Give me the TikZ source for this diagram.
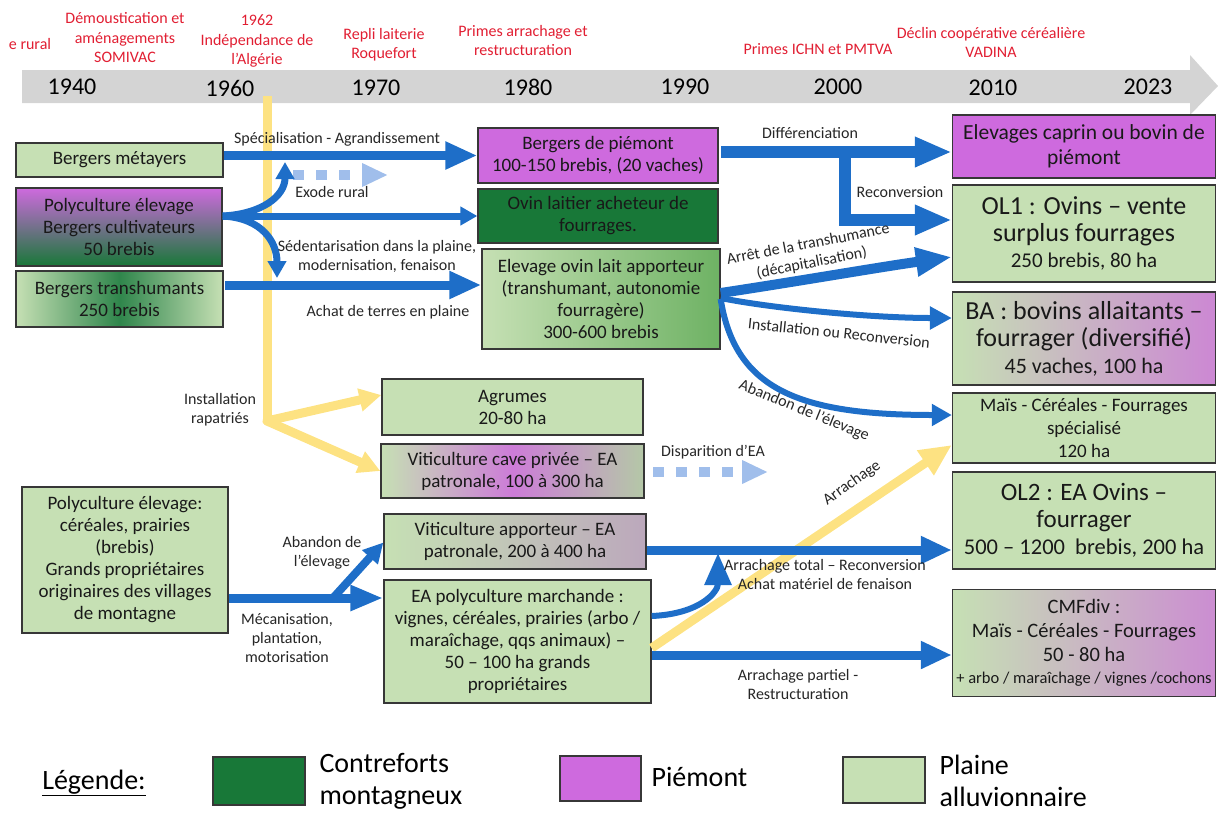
\documentclass[tikz,border=0pt]{standalone}
\usepackage{fontspec}
\setmainfont{Carlito}
\usetikzlibrary{arrows.meta}

\definecolor{lgreen}{RGB}{198,224,180}
\definecolor{dgreen}{RGB}{24,120,56}
\definecolor{mgreen}{RGB}{110,178,100}
\definecolor{piemont}{RGB}{206,106,222}
\definecolor{boxline}{RGB}{55,55,55}
\definecolor{flowblue}{RGB}{30,110,200}
\definecolor{paleblue}{RGB}{160,190,235}
\definecolor{sunyellow}{RGB}{253,226,130}
\definecolor{datered}{RGB}{225,30,50}
\definecolor{band}{RGB}{212,212,212}

\tikzset{
	box/.style={draw=boxline, line width=1.3pt, align=center, inner sep=2pt, text=black!90, font=\fontsize{19}{22}\selectfont},
	flow/.style={draw=flowblue, line width=9pt, -{Triangle[length=32pt,width=26pt]}},
	thinflow/.style={draw=flowblue, line width=7pt, -{Triangle[length=17pt,width=18pt]}},
	fadeflow/.style={draw=paleblue, line width=10pt, dash pattern=on 11pt off 12pt, -{Triangle[length=26pt,width=22pt]}},
	sunflow/.style={draw=sunyellow, line width=9pt, -{Triangle[length=22pt,width=22pt]}},
	event/.style={text=datered, align=center, font=\fontsize{16}{19.5}\selectfont},
	year/.style={font=\fontsize{24}{28}\selectfont},
	lbl/.style={align=center, text=black!85, font=\fontsize{16}{19}\selectfont},
	legtext/.style={anchor=west, align=left, font=\fontsize{28}{32}\selectfont},
}

\begin{document}
\begin{tikzpicture}[x=1pt,y=-1pt]
	\useasboundingbox (0,0) rectangle (1218,812);

	% time axis
	\fill[band] (22,70) -- (1190,70) -- (1190,55) -- (1218,86) -- (1190,115) -- (1190,103) -- (22,103) -- cycle;
	\node[year] (y1940) at (72,87) {1940};
	\node[year] (y1960) at (230,88) {1960};
	\node[year] (y1970) at (376,88) {1970};
	\node[year] (y1980) at (528,87) {1980};
	\node[year] (y1990) at (685,87) {1990};
	\node[year] (y2000) at (838,87) {2000};
	\node[year] (y2010) at (993,88) {2010};
	\node[year] (y2023) at (1148,87) {2023};

	% events
	\node[event] (ev1) at (30,44) {e rural};
	\node[event] (ev2) at (125,38) {Démoustication et\\aménagements\\SOMIVAC};
	\node[event] (ev3) at (257,41) {1962\\Indépendance de\\l’Algérie};
	\node[event] (ev4) at (384,44.5) {Repli laiterie\\Roquefort};
	\node[event] (ev5) at (523,40.5) {Primes arrachage et\\restructuration};
	\node[event] (ev6) at (818,49) {Primes ICHN et PMTVA};
	\node[event] (ev7) at (991,42.5) {Déclin coopérative céréalière\\VADINA};

	% left column
	\node[box, fill=lgreen, minimum width=207pt, minimum height=34pt] (metay) at (119.5,160) {Bergers métayers};
	\node[box, top color=piemont, bottom color=dgreen, minimum width=206pt, minimum height=78pt] (polyc) at (119,227) {Polyculture élevage\\Bergers cultivateurs\\50 brebis};
	\node[box, left color=lgreen, right color=lgreen, middle color=dgreen!90, minimum width=207pt, minimum height=56pt] (transh) at (119.5,299) {Bergers transhumants\\250 brebis};
	\node[box, fill=lgreen, minimum width=206pt, minimum height=146pt] (polyplaine) at (125,560) {Polyculture élevage:\\céréales, prairies\\(brebis)\\Grands propriétaires\\originaires des villages\\de montagne};

	% middle column
	\node[box, fill=piemont, minimum width=240pt, minimum height=55pt] (piem) at (598,155.5) {Bergers de piémont\\100-150 brebis, (20 vaches)};
	\node[box, fill=dgreen, minimum width=240pt, minimum height=54pt] (ovinach) at (598,216) {Ovin laitier acheteur de\\fourrages.};
	\node[box, left color=lgreen, right color=mgreen, minimum width=238pt, minimum height=100pt] (ovinlait) at (601,299) {Elevage ovin lait apporteur\\(transhumant, autonomie\\fourragère)\\300-600 brebis};
	\node[box, fill=lgreen, minimum width=261pt, minimum height=56pt] (agrumes) at (512.5,407) {Agrumes\\20-80 ha};
	\node[box, left color=lgreen, right color=lgreen!75!gray, middle color=piemont!85!lgreen, minimum width=263pt, minimum height=54pt] (vitipriv) at (512.5,471) {Viticulture cave privée – EA\\patronale, 100 à 300 ha};
	\node[box, left color=lgreen, right color={rgb,255:red,188;green,168;blue,188}, minimum width=262pt, minimum height=55pt] (vitiapp) at (515,541.5) {Viticulture apporteur – EA\\patronale, 200 à 400 ha};
	\node[box, fill=lgreen, minimum width=267pt, minimum height=123pt] (eapoly) at (517.5,641.5) {EA polyculture marchande :\\vignes, céréales, prairies (arbo /\\maraîchage, qqs animaux) –\\50 – 100 ha grands\\propriétaires};

	% right column
	\node[box, fill=piemont, minimum width=263pt, minimum height=63pt, font=\fontsize{21.5}{25}\selectfont] (caprin) at (1084,146.5) {Elevages caprin ou bovin de\\piémont};
	\node[box, fill=lgreen, minimum width=263pt, minimum height=97pt, font=\fontsize{26}{26.5}\selectfont] (ol1) at (1084,233.5) {OL1 : Ovins – vente\\surplus fourrages\\{\fontsize{21}{26.5}\selectfont 250 brebis, 80 ha}};
	\node[box, left color=lgreen, right color=piemont!75!lgreen, minimum width=263pt, minimum height=93pt, font=\fontsize{26}{27}\selectfont] (ba) at (1084,338.5) {BA : bovins allaitants –\\fourrager (diversifié)\\{\fontsize{22}{27}\selectfont 45 vaches, 100 ha}};
	\node[box, fill=lgreen, minimum width=263pt, minimum height=70pt, font=\fontsize{19}{23}\selectfont] (maisspe) at (1084,428) {Maïs - Céréales - Fourrages\\spécialisé\\120 ha};
	\node[box, fill=lgreen, minimum width=263pt, minimum height=97pt, font=\fontsize{25}{27}\selectfont] (ol2) at (1084,520.5) {OL2 : EA Ovins –\\fourrager\\{\fontsize{22.5}{27}\selectfont 500 – 1200~ brebis, 200 ha}};
	\node[box, left color=lgreen, right color=piemont!70!lgreen, minimum width=263pt, minimum height=107pt, font=\fontsize{20.5}{24}\selectfont] (cmf) at (1084,643) {CMFdiv :\\Maïs - Céréales - Fourrages\\50 - 80 ha\\[-2pt]{\fontsize{16.5}{20}\selectfont + arbo / maraîchage / vignes /cochons}};

	% yellow paths
	\coordinate (ytop) at (267,96);
	\coordinate (yfork) at (267,421);
	\draw[sunyellow, line width=9pt] (ytop) -- (yfork);
	\draw[sunflow, line cap=round] (yfork) -- ([yshift=12pt]agrumes.west);
	\draw[sunflow, line cap=round] (yfork) -- (vitipriv.west);
	\draw[sunflow, -{Triangle[length=32pt,width=28pt]}] ([yshift=-6.5pt]eapoly.east) -- ([yshift=-17pt]maisspe.west);

	% mountain and piemont flows
	\draw[flow] (metay.east |- piem.west) -- (piem.west);
	\coordinate (exA) at (293,175);
	\coordinate (exB) at (388,175);
	\draw[fadeflow] (exA) -- (exB);
	\draw[thinflow] (polyc.east |- ovinach.west) -- (ovinach.west);
	\coordinate (joinup) at (285,162);
	\coordinate (joindown) at (277,278);
	\draw[thinflow] (polyc.east |- ovinach.west) .. controls (262,214) and (285,196) .. (joinup);
	\draw[thinflow] (polyc.east |- ovinach.west) .. controls (262,218) and (277,242) .. (joindown);
	\coordinate (trout) at (225,285);
	\draw[flow] (trout) -- (trout -| ovinlait.west);

	% later evolutions
	\coordinate (difout) at (721,152);
	\coordinate (recturn) at (845,152);
	\draw[flow, line width=12pt, -{Triangle[length=37pt,width=28pt]}] (difout) -- (difout -| caprin.west);
	\draw[flow, line width=12pt, -{Triangle[length=37pt,width=28pt]}] (recturn) |- ([yshift=13.5pt]ol1.west);
	\draw[flow, line width=10pt, -{Triangle[length=36pt,width=27pt]}] ([yshift=6pt]ovinlait.east) .. controls (800,281) and (880,267) .. ([yshift=-23.5pt]ol1.west);
	\draw[flow, line width=6pt, -{Triangle[length=22pt,width=22pt]}] ([yshift=1pt]ovinlait.east) .. controls (770,308) and (870,318) .. ([yshift=20.5pt]ba.west);
	\draw[flow, line width=6pt, -{Triangle[length=20pt,width=21pt]}] (ovinlait.east) .. controls (735,390) and (800,415) .. ([yshift=13pt]maisspe.west);

	% plain flows
	\coordinate (disA) at (653,472);
	\coordinate (disB) at (768,472);
	\draw[fadeflow] (disA) -- (disB);
	\coordinate (vaout) at ([yshift=-8.5pt]vitiapp.east);
	\draw[flow, line width=6pt] ([yshift=25.5pt]eapoly.east) .. controls (700,614) and (718,592) .. (718,553);
	\draw[flow, -{Triangle[length=31pt,width=26pt]}] (vaout) -- (vaout -| ol2.west);
	\coordinate (epout) at ([yshift=-13.5pt]eapoly.east);
	\draw[flow, -{Triangle[length=31pt,width=26pt]}] (epout) -- (epout -| cmf.west);
	\coordinate (ppout) at ([yshift=-38pt]polyplaine.east);
	\coordinate (abfork) at (333,598);
	\draw[flow, -{Triangle[length=33pt,width=24pt]}] (ppout) -- (ppout -| eapoly.west);
	\draw[flow, line width=8pt, -{Triangle[length=20pt,width=20pt]}] (abfork) -- ([yshift=-1pt]vitiapp.west);

	% flow labels
	\node[lbl] (specl) at (337,139) {Spécialisation - Agrandissement};
	\node[lbl] (exodel) at (332,192) {Exode rural};
	\node[lbl] (sedl) at (377,256) {Sédentarisation dans la plaine,\\modernisation, fenaison};
	\node[lbl] (achatl) at (388,312) {Achat de terres en plaine};
	\node[lbl] (diffl) at (810,133) {Différenciation};
	\node[lbl] (reconvl) at (900,192) {Reconversion};
	\node[lbl, rotate=11] (arretl) at (810,254) {Arrêt de la transhumance\\(décapitalisation)};
	\node[lbl, rotate=-6] (installl) at (839,333) {Installation ou Reconversion};
	\node[lbl, rotate=-22] (abandl) at (804,411) {Abandon de l’élevage};
	\node[lbl] (rapatl) at (220,410) {Installation\\rapatriés};
	\node[lbl] (disl) at (713,452) {Disparition d’EA};
	\node[lbl, rotate=35] (arrachl) at (852,483) {Arrachage};
	\node[lbl] (totall) at (825,574) {Arrachage total – Reconversion\\Achat matériel de fenaison};
	\node[lbl] (abandpl) at (322,553) {Abandon de\\l’élevage};
	\node[lbl] (mecal) at (287,638) {Mécanisation,\\plantation,\\motorisation};
	\node[lbl] (partl) at (798,684) {Arrachage partiel -\\Restructuration};

	% legend
	\node[font=\fontsize{28}{32}\selectfont] (legtitle) at (94,783) {\underline{Légende:}};
	\node[draw=boxline, line width=1.3pt, fill=dgreen, minimum width=92pt, minimum height=48pt] (legmont) at (259,781) {};
	\node[legtext] (legmontt) at (316,781) {Contreforts\\montagneux};
	\node[draw=boxline, line width=1.3pt, fill=piemont, minimum width=81pt, minimum height=45pt] (legpiem) at (600.5,778.5) {};
	\node[legtext] (legpiemt) at (648,777) {Piémont};
	\node[draw=boxline, line width=1.3pt, fill=lgreen, minimum width=82pt, minimum height=46pt] (legplaine) at (884,780) {};
	\node[legtext] (legplainet) at (936,781) {Plaine\\alluvionnaire};
\end{tikzpicture}
\end{document}
